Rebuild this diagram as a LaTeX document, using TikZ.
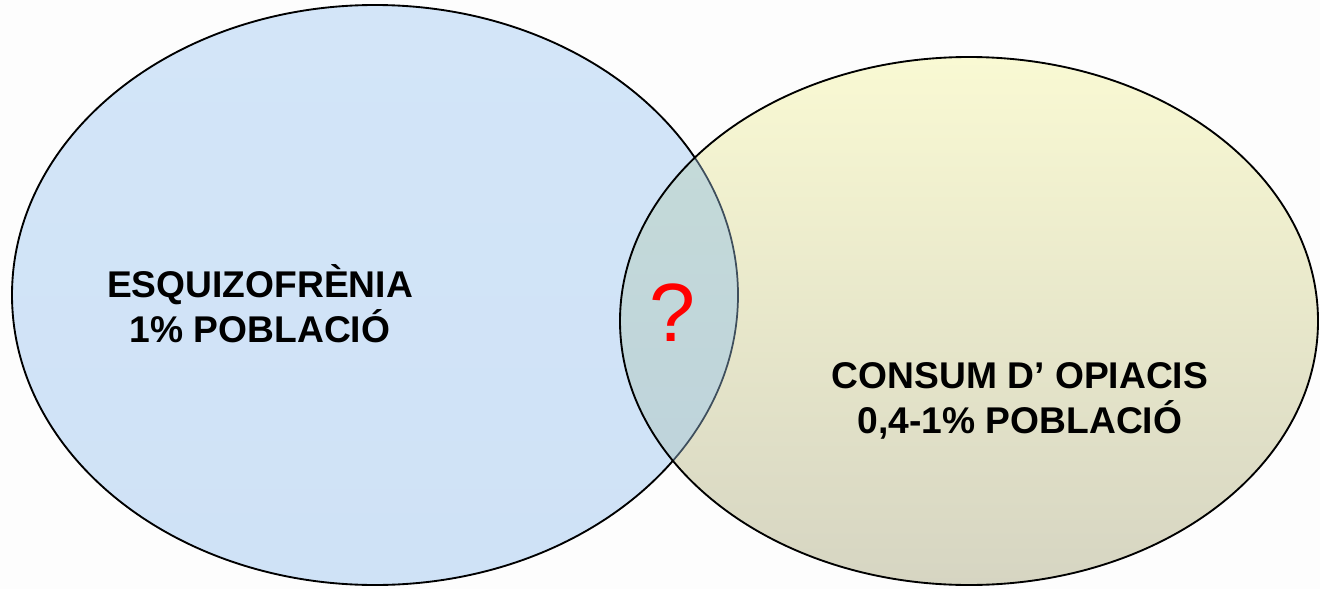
\documentclass[tikz,border=0pt]{standalone}
\usepackage{fontspec}
\setmainfont{Liberation Sans}
\definecolor{bgc}{HTML}{FDFDFD}
\definecolor{blueA}{HTML}{D3E5F8}
\definecolor{blueB}{HTML}{CFE2F6}
\definecolor{yelA}{HTML}{F9F9D3}
\definecolor{yelB}{HTML}{D6D5C2}
\definecolor{midA}{HTML}{C6DCD8}
\definecolor{midB}{HTML}{BCD1DC}
\definecolor{dimline}{HTML}{3E4E5C}
\tikzset{
  lbl/.style={font=\bfseries\fontsize{27.9}{34}\selectfont, align=center, text=black},
  qmark/.style={font=\fontsize{62}{70}\selectfont, text=red},
}
\begin{document}
\begin{tikzpicture}[x=0.75pt,y=-0.75pt]
\fill[bgc] (0,0) rectangle (1320,589);
\useasboundingbox (0,0) rectangle (1320,589);
% left ellipse
\fill[top color=blueA,bottom color=blueB] (375,295) ellipse [x radius=363, y radius=290];
\draw[line width=1.4pt] (375,295) ellipse [x radius=363, y radius=290];
% right ellipse fill
\fill[top color=yelA,bottom color=yelB] (969,321) ellipse [x radius=349, y radius=264];
% intersection
\begin{scope}
  \clip (375,295) ellipse [x radius=363, y radius=290];
  \fill[top color=midA,bottom color=midB] (969,321) ellipse [x radius=349, y radius=264];
\end{scope}
\begin{scope}
  \clip (969,321) ellipse [x radius=349, y radius=264];
  \draw[dimline,line width=1.3pt] (375,295) ellipse [x radius=363, y radius=290];
\end{scope}
\draw[line width=1.4pt] (969,321) ellipse [x radius=349, y radius=264];
% labels
\node[lbl] (left) at (260,304) {ESQUIZOFRÈNIA\\1\% POBLACIÓ};
\node[lbl] (right) at (1020,401) {CONSUM D’ OPIACIS\\0,4-1\% POBLACIÓ};
\node[qmark] (q) at (672,313) {?};
\end{tikzpicture}
\end{document}
